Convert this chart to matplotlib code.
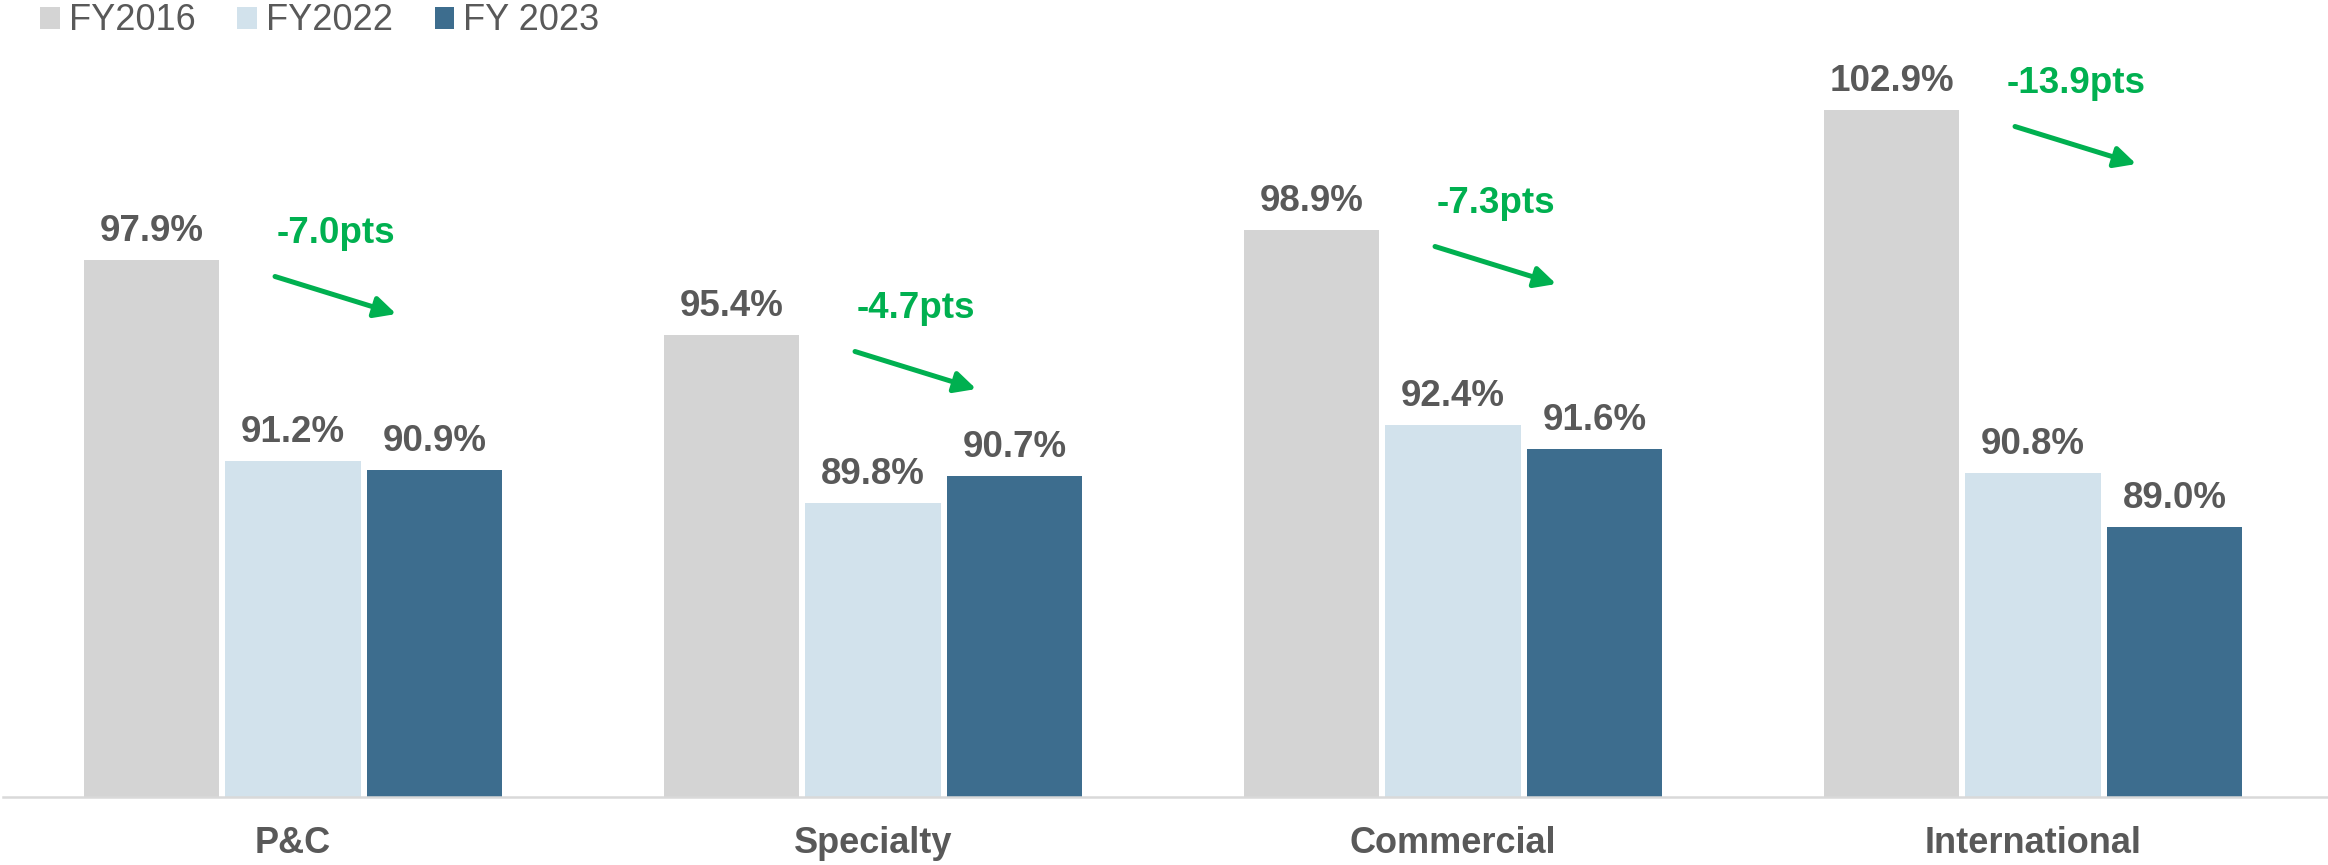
import numpy as np
import matplotlib.pyplot as plt
from matplotlib.patches import Patch

# Combined ratio by segment
segments = ['P&C', 'Specialty', 'Commercial', 'International']
series_names = ['FY2016', 'FY2022', 'FY 2023']
fy2016 = [97.9, 95.4, 98.9, 102.9]
fy2022 = [91.2, 89.8, 92.4, 90.8]
fy2023 = [90.9, 90.7, 91.6, 89.0]

colors = ['#D4D4D4', '#D2E2EC', '#3D6D8E']
text_gray = '#595959'
green = '#00B050'

plt.rcParams['font.family'] = ['Liberation Sans', 'DejaVu Sans']

fig = plt.figure(figsize=(23.28, 8.65), dpi=100)
ax = fig.add_axes([3 / 2328, 68 / 865, 2325 / 2328, 797 / 865])

x = np.arange(len(segments))
offset = 0.244
width = 0.233

for i, (vals, col) in enumerate(zip([fy2016, fy2022, fy2023], colors)):
    xs = x + (i - 1) * offset
    ax.bar(xs, vals, width=width, color=col, bottom=0, zorder=2)
    for xi, v in zip(xs, vals):
        ax.annotate(f'{v:.1f}%', xy=(xi, v), xytext=(0, 14),
                    textcoords='offset points', ha='center', va='baseline',
                    fontsize=26.5, fontweight='bold', color=text_gray)

# change from FY2016 to FY2023 with a down arrow
for xi, v16, v23 in zip(x, fy2016, fy2023):
    ax.annotate(f'{v23 - v16:.1f}pts', xy=(xi + 0.074, v16), xytext=(0, 12),
                textcoords='offset points', ha='center', va='baseline',
                fontsize=26.5, fontweight='bold', color=green)
    ax.annotate('', xy=(xi + 0.178, v16 - 1.8), xytext=(xi - 0.031, v16 - 0.55),
                arrowprops=dict(arrowstyle='-|>', color=green, lw=3.6,
                                mutation_scale=32, shrinkA=0, shrinkB=0,
                                capstyle='round'))

ax.set_xlim(-0.5, 3.5 + 5 / 580)
ax.set_ylim(80, 80 + 797 / 30)
ax.set_xticks(x)
ax.set_xticklabels(segments, fontsize=26, fontweight='bold', color=text_gray)
ax.tick_params(axis='x', length=0, pad=21)
ax.set_yticks([])
for side in ['top', 'right', 'left']:
    ax.spines[side].set_visible(False)
ax.spines['bottom'].set_color('#D9D9D9')
ax.spines['bottom'].set_linewidth(1.8)
ax.spines['bottom'].set_zorder(3)

handles = [Patch(facecolor=c, edgecolor='none') for c in colors]
fig.legend(handles, series_names, loc='upper left', bbox_to_anchor=(40 / 2328, 0.996),
           frameon=False, ncol=3, fontsize=26, labelcolor=text_gray,
           handlelength=0.55, handleheight=0.55, handletextpad=0.25,
           columnspacing=1.15, borderpad=0, borderaxespad=0)

fig.savefig('out.png', dpi=100, facecolor='white')
